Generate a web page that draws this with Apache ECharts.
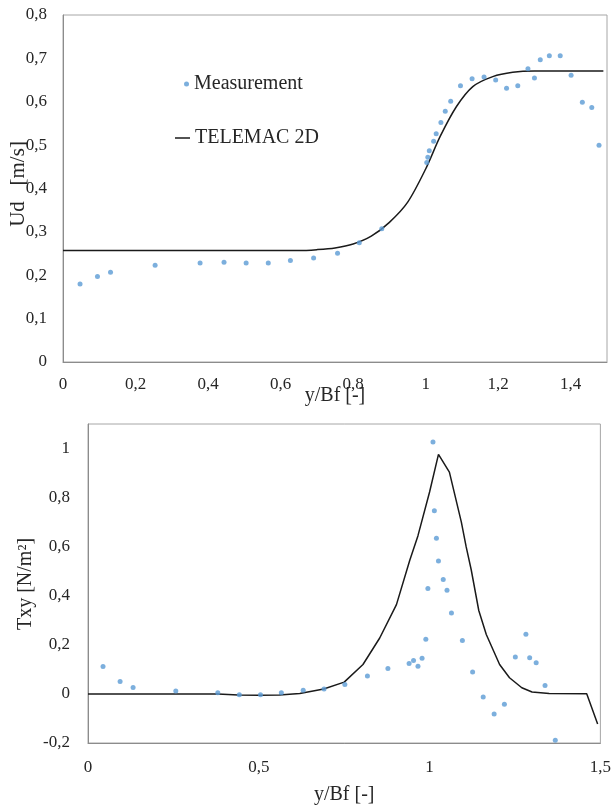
<!DOCTYPE html>
<html>
<head>
<meta charset="utf-8">
<script src="https://cdn.jsdelivr.net/npm/echarts@6/dist/echarts.min.js"></script>
<style>
html,body{margin:0;padding:0;background:#fff;}
#chart{width:614px;height:808px;}
</style>
</head>
<body>
<div id="chart"></div>
<script>
// ---- Top chart: Ud [m/s] vs y/Bf ----
var udMeasX = [0.047,0.095,0.131,0.254,0.378,0.444,0.505,0.566,0.627,0.691,0.757,0.817,0.879,1.003,1.006,1.010,1.022,1.029,1.042,1.054,1.069,1.096,1.128,1.161,1.193,1.223,1.254,1.282,1.300,1.316,1.341,1.371,1.401,1.432,1.458,1.478];
var udMeasY = [0.180,0.197,0.207,0.223,0.228,0.230,0.228,0.228,0.234,0.240,0.251,0.275,0.307,0.460,0.472,0.487,0.509,0.526,0.552,0.578,0.601,0.637,0.653,0.657,0.650,0.631,0.637,0.676,0.655,0.697,0.706,0.706,0.661,0.599,0.587,0.500];
var udSimX = [0,0.2,0.4,0.6,0.65,0.7,0.75,0.8,0.85,0.9,0.95,1.0,1.04,1.085,1.13,1.185,1.24,1.3,1.4,1.49];
var udSimY = [0.257,0.257,0.257,0.257,0.257,0.259,0.263,0.272,0.290,0.322,0.368,0.445,0.520,0.589,0.635,0.658,0.668,0.671,0.671,0.671];
var udXTicks = {min:0, max:1.5, interval:0.2};
var udYTicks = {min:0, max:0.8, interval:0.1};

// ---- Bottom chart: Txy [N/m²] vs y/Bf ----
var txyMeasX = [0.044,0.094,0.132,0.257,0.380,0.443,0.505,0.566,0.630,0.691,0.752,0.818,0.878,0.940,0.953,0.966,0.978,0.989,0.995,1.010,1.014,1.020,1.026,1.040,1.051,1.064,1.096,1.126,1.157,1.189,1.219,1.251,1.282,1.293,1.312,1.338,1.368];
var txyMeasY = [0.112,0.051,0.026,0.012,0.005,-0.003,-0.003,0.005,0.015,0.020,0.038,0.073,0.104,0.124,0.136,0.113,0.145,0.223,0.430,1.027,0.746,0.634,0.542,0.466,0.422,0.330,0.218,0.089,-0.013,-0.082,-0.042,0.150,0.243,0.147,0.127,0.034,-0.189];
var txySimX = [0,0.38,0.44,0.5,0.56,0.62,0.69,0.75,0.805,0.854,0.903,0.942,0.966,1.0,1.026,1.058,1.093,1.107,1.122,1.144,1.166,1.205,1.234,1.27,1.3,1.35,1.46,1.492];
var txySimY = [0,0,-0.004,-0.005,-0.004,0.002,0.020,0.048,0.120,0.228,0.364,0.545,0.645,0.823,0.976,0.904,0.700,0.600,0.505,0.340,0.242,0.120,0.066,0.025,0.008,0.002,0.001,-0.123];
var txyXTicks = {min:0, max:1.5, interval:0.5};
var txyYTicks = {min:-0.2, max:1.1, interval:0.2};

function pairs(xs, ys){ return xs.map(function(x,i){ return [x, ys[i]]; }); }
function fmt(hideAbove){
  return function(v){
    if (hideAbove !== undefined && v > hideAbove) return '';
    return String(+v.toFixed(2)).replace('.', ',');
  };
}

var FONT = "'Liberation Serif','Times New Roman',serif";
var TXT = '#262626';
var BLUE = '#5B9BD5';
var AXIS = '#8c8c8c';

function xAxisCfg(idx, t, margin, name, gap, hideAbove){
  return {
    gridIndex: idx, type:'value', min:t.min, max:t.max, interval:t.interval,
    name:name, nameLocation:'middle', nameGap:gap, nameMoveOverlap:false,
    nameTextStyle:{fontFamily:FONT, fontSize:20, color:TXT},
    axisLine:{show:true, onZero:false, lineStyle:{color:AXIS, width:1}},
    axisTick:{show:false}, splitLine:{show:false},
    axisLabel:{fontFamily:FONT, fontSize:17, color:TXT, margin:margin, formatter:fmt(hideAbove)}
  };
}
function yAxisCfg(idx, t, margin, hideAbove){
  return {
    gridIndex: idx, type:'value', min:t.min, max:t.max, interval:t.interval,
    axisLine:{show:true, onZero:false, lineStyle:{color:AXIS, width:1}},
    axisTick:{show:false}, splitLine:{show:false},
    axisLabel:{fontFamily:FONT, fontSize:17, color:TXT, margin:margin, formatter:fmt(hideAbove)}
  };
}

var chart = echarts.init(document.getElementById('chart'), null, {renderer:'canvas'});
chart.setOption({
  backgroundColor:'#fff',
  animation:false,
  grid:[
    {left:63, top:15, right:7, bottom:446, show:true, borderColor:'#a6a6a6', borderWidth:1, backgroundColor:'transparent'},
    {left:88, top:424, right:12, bottom:65, show:true, borderColor:'#a6a6a6', borderWidth:1, backgroundColor:'transparent'}
  ],
  xAxis:[
    xAxisCfg(0, udXTicks, 14, 'y/Bf [-]', 24, 1.45),
    xAxisCfg(1, txyXTicks, 16, 'y/Bf [-]', 42)
  ],
  yAxis:[
    yAxisCfg(0, udYTicks, 16),
    yAxisCfg(1, txyYTicks, 18, 1.05)
  ],
  legend:[
    {data:[{name:'Measurement', icon:'circle'}], left:184, top:74, padding:0, itemWidth:5, itemHeight:5,
     textStyle:{fontFamily:FONT, fontSize:20, color:TXT}, selectedMode:false},
    {data:[{name:'TELEMAC 2D', icon:'rect'}], left:175, top:128, padding:0, itemWidth:15, itemHeight:1.5,
     textStyle:{fontFamily:FONT, fontSize:20, color:TXT}, selectedMode:false}
  ],
  graphic:[
    {type:'text', x:18, y:184, rotation:Math.PI/2,
     style:{text:'Ud   [m/s]', font:'21px '+FONT, fill:TXT, textAlign:'center', textVerticalAlign:'middle'}},
    {type:'text', x:26, y:584, rotation:Math.PI/2,
     style:{text:'Txy [N/m²]', font:'20px '+FONT, fill:TXT, textAlign:'center', textVerticalAlign:'middle'}}
  ],
  series:[
    {name:'TELEMAC 2D', type:'line', xAxisIndex:0, yAxisIndex:0, data:pairs(udSimX, udSimY),
     symbol:'none', smooth:0.3, lineStyle:{color:'#1a1a1a', width:1.5}, itemStyle:{color:'#1a1a1a'}, z:2},
    {name:'Measurement', type:'scatter', xAxisIndex:0, yAxisIndex:0, data:pairs(udMeasX, udMeasY),
     symbol:'circle', symbolSize:5, itemStyle:{color:BLUE}, z:3},
    {name:'TELEMAC 2D b', type:'line', xAxisIndex:1, yAxisIndex:1, data:pairs(txySimX, txySimY),
     symbol:'none', lineStyle:{color:'#1a1a1a', width:1.5}, z:2},
    {name:'Measurement b', type:'scatter', xAxisIndex:1, yAxisIndex:1, data:pairs(txyMeasX, txyMeasY),
     symbol:'circle', symbolSize:5, itemStyle:{color:BLUE}, z:3}
  ]
});
</script>
</body>
</html>
